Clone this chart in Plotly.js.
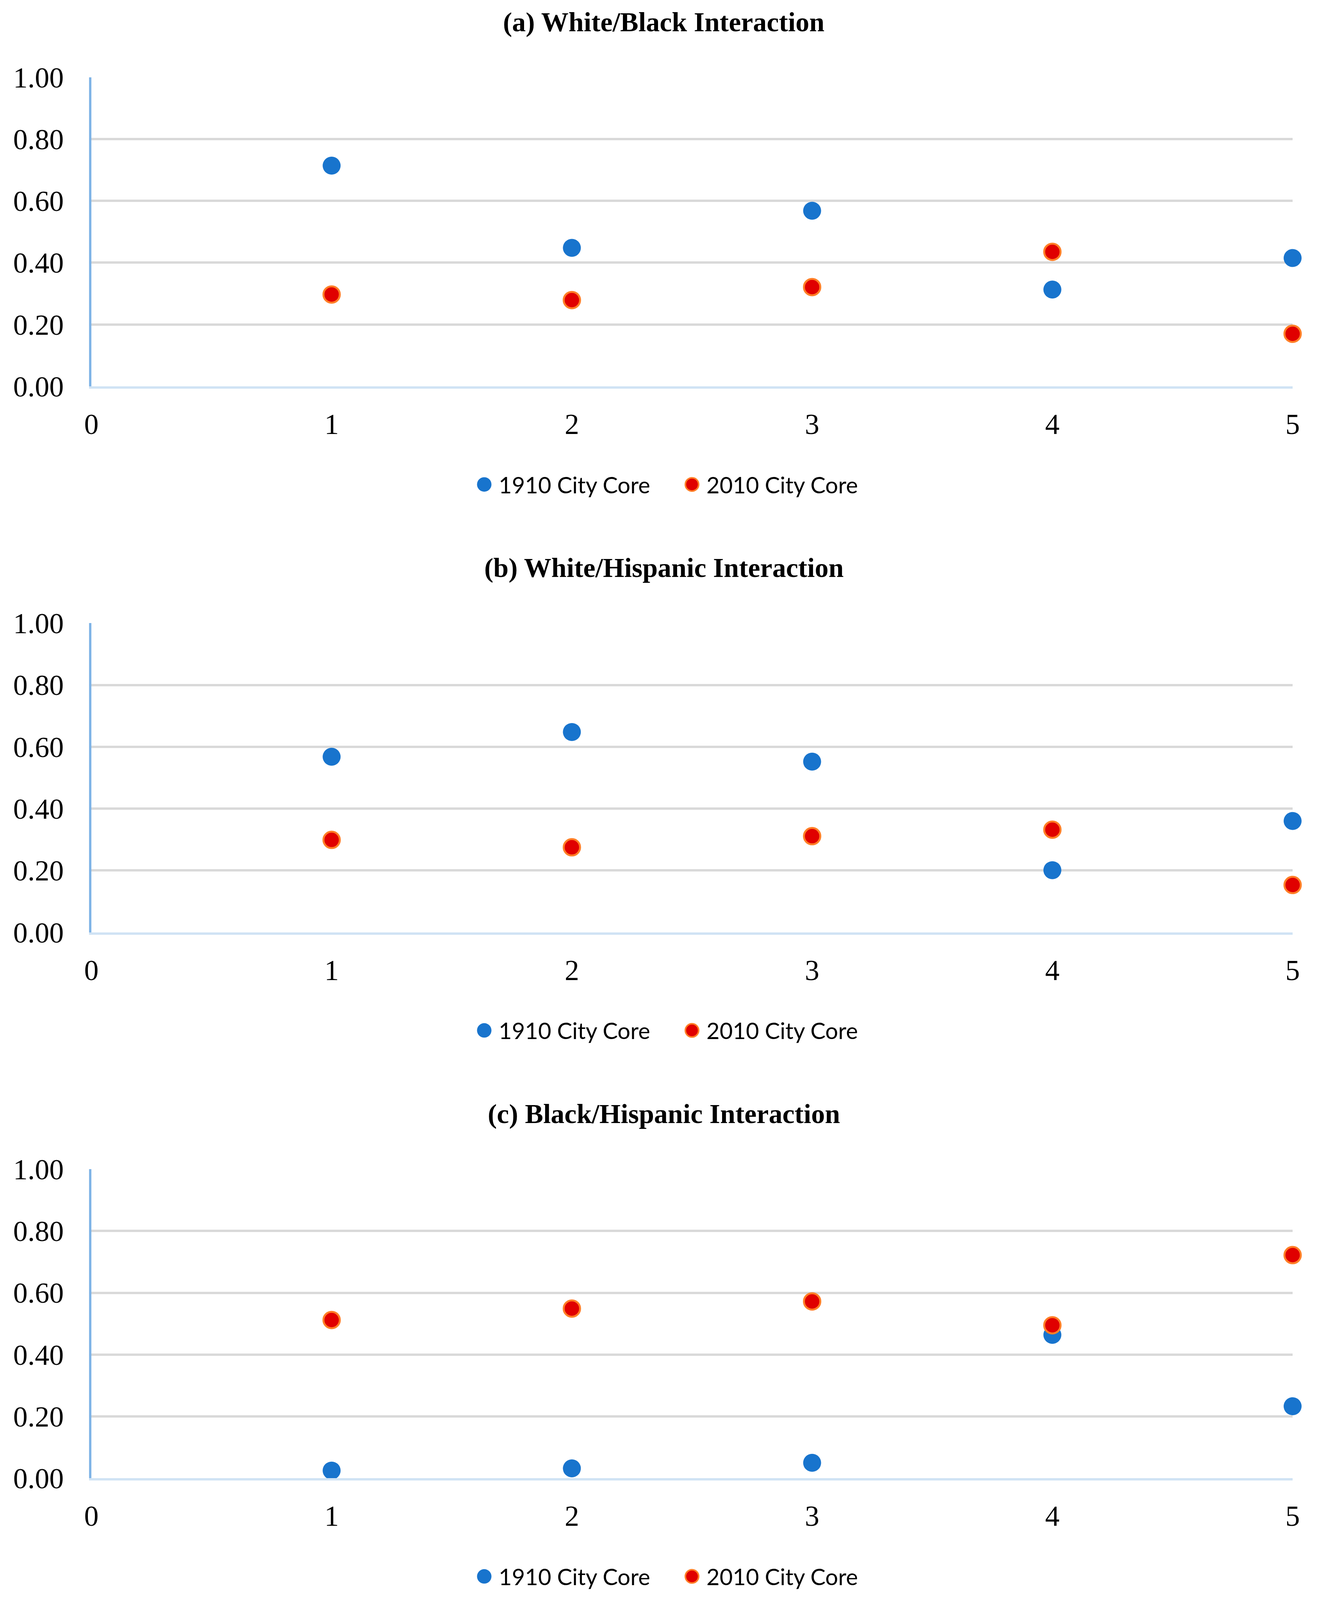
<!DOCTYPE html>
<html><head><meta charset="utf-8">
<script src="https://cdn.plot.ly/plotly-3.0.1.min.js"></script>
<style>html,body{margin:0;padding:0;background:#fff;overflow:hidden}</style>
</head><body><div id="chart" style="width:3375px;height:4096px"></div>
<script>
// ---- data ----
const zones = [1, 2, 3, 4, 5];
const panelTitles = ['(a) White/Black Interaction', '(b) White/Hispanic Interaction', '(c) Black/Hispanic Interaction'];
const seriesNames = ['1910 City Core', '2010 City Core'];
const whiteBlack1910 = [0.714, 0.448, 0.568, 0.313, 0.415];
const whiteBlack2010 = [0.297, 0.279, 0.321, 0.435, 0.170];
const whiteHisp1910 = [0.568, 0.648, 0.552, 0.201, 0.360];
const whiteHisp2010 = [0.299, 0.275, 0.311, 0.332, 0.153];
const blackHisp1910 = [0.025, 0.032, 0.050, 0.464, 0.233];
const blackHisp2010 = [0.512, 0.549, 0.572, 0.495, 0.722];
const xTickVals = [0, 1, 2, 3, 4, 5];
const xTickText = ['0', '1', '2', '3', '4', '5'];
const yTickVals = [0, 0.2, 0.4, 0.6, 0.8, 1.0];
const yTickText = ['0.00', '0.20', '0.40', '0.60', '0.80', '1.00'];

// ---- layout geometry (measured on a 3375 x 4154 reference, expressed as paper fractions) ----
const W = 3375, REF_H = 4154;
const RENDER_H = 4096;            // visible viewport height
const PITCH = 1417.5;
const plotTop0 = 200.4, plotBot0 = 1003;
const xLeft = 234, xRight = 3310;
const titleY0 = 57, legendY0 = 1258;
const BLUE = '#1874CD', RED = '#E00000', ORANGE = '#FF7F27';

const panels = [
  [whiteBlack1910, whiteBlack2010],
  [whiteHisp1910, whiteHisp2010],
  [blackHisp1910, blackHisp2010]
];

const traces = [];
const layout = {
  width: W, height: RENDER_H,
  margin: {l: 0, r: 0, t: 0, b: 0, pad: 0},
  paper_bgcolor: '#ffffff', plot_bgcolor: '#ffffff',
  annotations: [],
  showlegend: true
};

panels.forEach((p, i) => {
  const sfx = i === 0 ? '' : String(i + 1);
  const off = i * PITCH;
  const legName = 'legend' + sfx;
  traces.push({
    type: 'scatter', mode: 'markers', x: zones, y: p[0], name: seriesNames[0],
    xaxis: 'x' + sfx, yaxis: 'y' + sfx, legend: legName, cliponaxis: false,
    marker: {color: BLUE, size: 46, line: {width: 0}}
  });
  traces.push({
    type: 'scatter', mode: 'markers', x: zones, y: p[1], name: seriesNames[1],
    xaxis: 'x' + sfx, yaxis: 'y' + sfx, legend: legName, cliponaxis: false,
    marker: {color: RED, size: 42, line: {width: 5, color: ORANGE}}
  });
  layout['xaxis' + sfx] = {
    domain: [xLeft / W, xRight / W], anchor: 'y' + sfx,
    range: [0, 5], tickvals: xTickVals, ticktext: xTickText,
    showgrid: false, zeroline: false, showline: true, linecolor: '#D0E3F4', linewidth: 6,
    ticks: '', ticklabelstandoff: 27,
    tickfont: {family: 'Liberation Serif', size: 74, color: '#000'}
  };
  layout['yaxis' + sfx] = {
    domain: [1 - (plotBot0 + off) / REF_H, 1 - (plotTop0 + off) / REF_H], anchor: 'x' + sfx,
    range: [0, 1], tickvals: yTickVals, ticktext: yTickText,
    showgrid: true, gridcolor: '#D9D9D9', gridwidth: 6,
    zeroline: false, showline: true, linecolor: '#80B4E6', linewidth: 6,
    ticks: '', ticklabelstandoff: 50,
    tickfont: {family: 'Liberation Serif', size: 74, color: '#000'}
  };
  layout[legName] = {
    orientation: 'h', x: (1240 - 37) / W, xanchor: 'left',
    y: 1 - (legendY0 + off) / REF_H, yanchor: 'middle',
    itemwidth: 64, entrywidth: 453, traceorder: 'normal',
    font: {family: 'Lato', size: 58, color: '#000'},
    bgcolor: 'rgba(0,0,0,0)', borderwidth: 0
  };
  layout.annotations.push({
    text: '<b>' + panelTitles[i] + '</b>', xref: 'paper', yref: 'paper',
    x: 1700 / W, y: 1 - (titleY0 + off) / REF_H, xanchor: 'center', yanchor: 'middle',
    showarrow: false, font: {family: 'Liberation Serif', size: 70, color: '#000'}
  });
});

Plotly.newPlot('chart', traces, layout, {staticPlot: true, displayModeBar: false}).then(() => {
  // enlarge legend symbols to match the reference (Plotly caps legend marker size)
  document.querySelectorAll('g.legendpoints path.scatterpts').forEach(pt => {
    const st = (pt.getAttribute('style') || '') + (pt.style.fill || '');
    const isRed = st.indexOf('224') >= 0 || st.toLowerCase().indexOf('e00000') >= 0;
    const r = isRed ? 17 : 18.5;
    pt.setAttribute('d', 'M' + r + ',0A' + r + ',' + r + ' 0 1,1 0,-' + r + 'A' + r + ',' + r + ' 0 0,1 ' + r + ',0Z');
    if (isRed) { pt.style.strokeWidth = '4px'; }
  });
});
</script>
</body></html>
